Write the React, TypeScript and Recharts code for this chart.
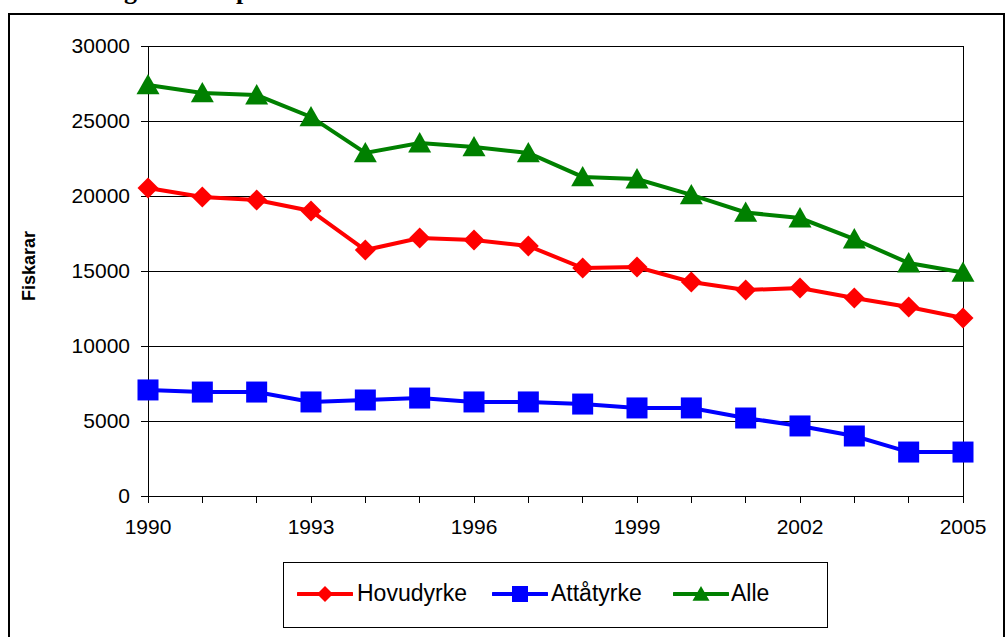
import React from 'react';
import { LineChart, Line, XAxis, YAxis, CartesianGrid, ReferenceLine } from 'recharts';

const years = [1990, 1991, 1992, 1993, 1994, 1995, 1996, 1997, 1998, 1999, 2000, 2001, 2002, 2003, 2004, 2005];
const labeledYears = [1990, 1993, 1996, 1999, 2002, 2005];
const hovudyrke = [20530, 19930, 19730, 19000, 16400, 17200, 17070, 16670, 15200, 15270, 14270, 13730, 13870, 13200, 12600, 11870];
const attatyrke = [7070, 6930, 6930, 6270, 6400, 6530, 6270, 6270, 6130, 5870, 5870, 5200, 4670, 4000, 2930, 2930];
const alle = [27400, 26870, 26730, 25270, 22870, 23530, 23270, 22870, 21270, 21130, 20070, 18900, 18530, 17130, 15530, 14900];
const yTicks = [0, 5000, 10000, 15000, 20000, 25000, 30000];
const seriesNames = ['Hovudyrke', 'Attåtyrke', 'Alle'];
const seriesKeys = ['hovudyrke', 'attatyrke', 'alle'];
const seriesColors = ['#FF0000', '#0000FF', '#008000'];
const yAxisTitle = 'Fiskarar';

const data = years.map((y, i) => ({
  year: y,
  hovudyrke: hovudyrke[i],
  attatyrke: attatyrke[i],
  alle: alle[i],
}));

const FONT = '"Liberation Sans", Arial, Helvetica, sans-serif';

function Marker({ kind, cx, cy, size, color }: { kind: number; cx: number; cy: number; size: number; color: string }) {
  const h = size / 2;
  if (kind === 0) {
    return <polygon points={`${cx},${cy - h} ${cx + h},${cy} ${cx},${cy + h} ${cx - h},${cy}`} fill={color} />;
  }
  if (kind === 1) {
    return <rect x={cx - h} y={cy - h} width={size} height={size} fill={color} />;
  }
  return <polygon points={`${cx},${cy - h} ${cx + h + 0.5},${cy + h * 0.85} ${cx - h - 0.5},${cy + h * 0.85}`} fill={color} />;
}

const makeDot = (kind: number, color: string) => (p: any) => {
  if (p.cx == null || p.cy == null) return <g key={`n-${kind}-${p.index}`} />;
  return (
    <g key={`m-${kind}-${p.index}`}>
      <Marker kind={kind} cx={p.cx} cy={p.cy} size={kind === 2 ? 22 : 21} color={color} />
    </g>
  );
};

const renderYLabel = (props: any) => {
  const vb = props && props.viewBox ? props.viewBox : { x: 0, y: 46, width: 148, height: 450 };
  const cx = vb.x + 35;
  const cy = vb.y + vb.height / 2 - 5;
  return (
    <text
      x={cx}
      y={cy}
      transform={`rotate(-90 ${cx} ${cy})`}
      textAnchor="middle"
      fontWeight="bold"
      fontSize={18}
      fontFamily={FONT}
      fill="#000"
    >
      {yAxisTitle}
    </text>
  );
};

export default function App() {
  return (
    <div style={{ position: 'absolute', left: 0, top: 0, width: 1005, height: 637, overflow: 'hidden', background: '#fff' }}>
      <div
        style={{
          position: 'absolute',
          left: 8,
          top: 13,
          width: 997,
          height: 700,
          border: '2px solid #000',
          boxSizing: 'border-box',
        }}
      />
      <div
        style={{
          position: 'absolute',
          left: 0,
          top: 0,
          width: 1005,
          height: 14,
          overflow: 'hidden',
          fontFamily: '"Liberation Serif", "Times New Roman", serif',
          fontWeight: 'bold',
          fontSize: 26,
        }}
      >
        <span style={{ position: 'absolute', left: 124, top: -24, lineHeight: '30px' }}>g</span>
        <span style={{ position: 'absolute', left: 236, top: -24, lineHeight: '30px' }}>p</span>
      </div>
      <div style={{ position: 'absolute', left: 0, top: 0 }}>
        <LineChart width={1005} height={637} data={data} margin={{ top: 46, right: 42, bottom: 81, left: 0 }}>
          <CartesianGrid
            horizontal={true}
            vertical={false}
            stroke="#000"
            strokeWidth={1}
            strokeDasharray=""
            shapeRendering="crispEdges"
          />
          <ReferenceLine x={2005} stroke="#000" strokeWidth={1} shapeRendering="crispEdges" />
          <XAxis
            dataKey="year"
            type="number"
            domain={[1990, 2005]}
            ticks={years}
            tickFormatter={(v: number) => (labeledYears.includes(v) ? String(v) : '')}
            height={60}
            tickSize={7}
            tickMargin={16}
            axisLine={{ stroke: '#000', strokeWidth: 1, shapeRendering: 'crispEdges' }}
            tickLine={{ stroke: '#000', strokeWidth: 1, shapeRendering: 'crispEdges' }}
            tick={{ fill: '#000', fontSize: 21, fontFamily: FONT }}
            interval={0}
            allowDecimals={false}
          />
          <YAxis
            type="number"
            domain={[0, 30000]}
            ticks={yTicks}
            width={148}
            tickSize={7}
            tickMargin={11}
            axisLine={{ stroke: '#000', strokeWidth: 1, shapeRendering: 'crispEdges' }}
            tickLine={{ stroke: '#000', strokeWidth: 1, shapeRendering: 'crispEdges' }}
            tick={{ fill: '#000', fontSize: 21, fontFamily: FONT }}
            interval={0}
            label={{ content: renderYLabel }}
          />
          {seriesKeys.map((k, i) => (
            <Line
              key={k}
              type="linear"
              dataKey={k}
              name={seriesNames[i]}
              stroke={seriesColors[i]}
              strokeWidth={4}
              dot={makeDot(i, seriesColors[i])}
              activeDot={false}
              isAnimationActive={false}
            />
          ))}
        </LineChart>
      </div>
      <div
        style={{
          position: 'absolute',
          left: 283,
          top: 562,
          width: 545,
          height: 66,
          border: '1.5px solid #000',
          boxSizing: 'border-box',
          background: '#fff',
          fontFamily: FONT,
          fontSize: 23,
        }}
      >
        {seriesNames.map((name, i) => {
          const iconLeft = [13, 208, 389][i];
          const textLeft = [73, 267, 447][i];
          return (
            <React.Fragment key={name}>
              <svg style={{ position: 'absolute', left: iconLeft, top: 11 }} width={56} height={40}>
                <line x1={1} y1={20} x2={55} y2={20} stroke={seriesColors[i]} strokeWidth={4} strokeLinecap="round" />
                <Marker kind={i} cx={28} cy={20} size={16} color={seriesColors[i]} />
              </svg>
              <span style={{ position: 'absolute', left: textLeft, top: 15, lineHeight: '30px', whiteSpace: 'nowrap' }}>{name}</span>
            </React.Fragment>
          );
        })}
      </div>
    </div>
  );
}
